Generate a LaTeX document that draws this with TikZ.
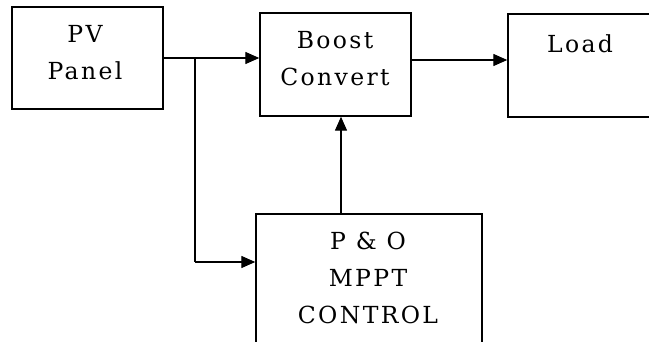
\documentclass[tikz,border=0pt]{standalone}
\usepackage{fontspec}
\setmainfont{DejaVu Serif}[LetterSpace=10]
\usetikzlibrary{arrows.meta}
\tikzset{
  blockbox/.style={draw=black, line width=1.4pt, rectangle, inner sep=0pt},
  blocktext/.style={font=\fontsize{23.5}{23.5}\selectfont, inner sep=0pt, anchor=center},
  wire/.style={draw=black, line width=1.3pt},
  arrowwire/.style={wire, -{Triangle[length=14pt,width=12pt]}}
}
\begin{document}
\begin{tikzpicture}[x=1pt,y=-1pt]
  \useasboundingbox (0,0) rectangle (649,342);
  \clip (0,0) rectangle (649,342);
  \fill[white] (0,0) rectangle (649,342);

  % blocks
  \node[blockbox, minimum width=151pt, minimum height=102pt] (pv)    at (87.5,58) {};
  \node[blockbox, minimum width=151pt, minimum height=103pt] (boost) at (335.5,64.5) {};
  \node[blockbox, minimum width=152pt, minimum height=103pt] (load)  at (584,65.5) {};
  \node[blockbox, minimum width=226pt, minimum height=136pt] (mppt)  at (369,282) {};

  % labels
  \node[blocktext] (pvA) at (85,34) {PV};
  \node[blocktext] (pvB) at (85,71) {Panel};
  \node[blocktext] (bcA) at (335,40) {Boost};
  \node[blocktext] (bcB) at (335,77) {Convert};
  \node[blocktext] (ldA) at (580,44) {Load};
  \node[blocktext] (mpA) at (368,241) {P \& O};
  \node[blocktext] (mpB) at (368,278) {MPPT};
  \node[blocktext] (mpC) at (368,315) {CONTROL};

  % connectors
  \coordinate (split) at (195,58);
  \coordinate (turn)  at (195,262);
  \coordinate (outb)  at (411,60);
  \coordinate (ctl)   at (341,214);
  \draw[wire] (pv.east |- split) -- (split);
  \draw[arrowwire] (split) -- (boost.west |- split);
  \draw[wire] (split) -- (turn);
  \draw[arrowwire] (turn) -- (mppt.west |- turn);
  \draw[arrowwire] (boost.east |- outb) -- (load.west |- outb);
  \draw[arrowwire] (mppt.north -| ctl) -- (boost.south -| ctl);
\end{tikzpicture}
\end{document}
